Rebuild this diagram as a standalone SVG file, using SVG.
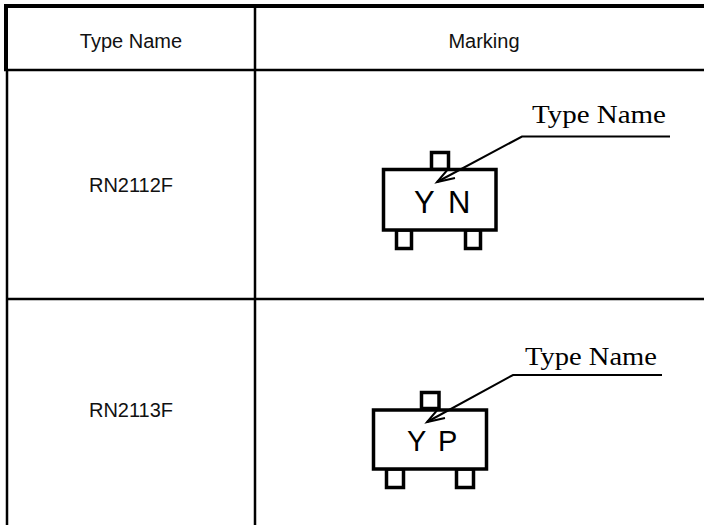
<svg xmlns="http://www.w3.org/2000/svg" width="704" height="525" viewBox="0 0 704 525">
<style>
.grid{stroke:#000;fill:none}
.lbl{font-family:"Liberation Sans",Arial,sans-serif;font-size:20px;fill:#111;text-anchor:middle}
.mark{font-family:"Liberation Sans",Arial,sans-serif;font-size:30px;fill:#000}
.tn{font-family:"Liberation Serif","Times New Roman",serif;font-size:25px;fill:#000}
.pkg{stroke:#000;stroke-width:3.5;fill:#fff}
.lead{stroke:#000;stroke-width:2;fill:none}
</style>
<rect width="704" height="525" fill="#fff"/>
<g id="table">
<line class="grid" x1="4" y1="6" x2="704" y2="6" stroke-width="4"/>
<line class="grid" x1="6" y1="4" x2="6" y2="71" stroke-width="4"/>
<line class="grid" x1="7" y1="70" x2="7" y2="525" stroke-width="2.5"/>
<line class="grid" x1="4" y1="70" x2="704" y2="70" stroke-width="2.5"/>
<line class="grid" x1="255" y1="6" x2="255" y2="525" stroke-width="2.5"/>
<line class="grid" x1="7" y1="299" x2="704" y2="299" stroke-width="2.5"/>
</g>
<g id="header">
<text class="lbl" x="131" y="48">Type Name</text>
<text class="lbl" x="484" y="48">Marking</text>
</g>
<g id="row1">
<text class="lbl" x="131" y="192">RN2112F</text>
<rect class="pkg" x="431.5" y="152.5" width="17" height="17"/>
<rect class="pkg" x="396.5" y="230" width="15" height="18.5"/>
<rect class="pkg" x="465.5" y="230" width="15" height="18.5"/>
<rect class="pkg" x="383.5" y="169.5" width="112.5" height="60.5"/>
<text class="mark" x="414" y="213" style="font-size:31px">Y</text>
<text class="mark" x="448" y="213" style="font-size:31px">N</text>
<text class="tn" x="532" y="123" textLength="134" lengthAdjust="spacingAndGlyphs">Type Name</text>
</g>
<g id="row2">
<text class="lbl" x="131" y="417">RN2113F</text>
<rect class="pkg" x="421.5" y="392.5" width="17.5" height="16"/>
<rect class="pkg" x="386.5" y="469" width="17" height="18.5"/>
<rect class="pkg" x="456.5" y="469" width="17" height="18.5"/>
<rect class="pkg" x="373.5" y="410" width="113" height="59"/>
<text class="mark" x="407" y="451" style="font-size:29px">Y</text>
<text class="mark" x="438" y="451" style="font-size:29px">P</text>
<text class="tn" x="525" y="365" textLength="132" lengthAdjust="spacingAndGlyphs">Type Name</text>
</g>
<g id="connectors">
<path class="lead" d="M670,136.5 H522 L437,182"/>
<path class="lead" d="M449,168 L437,182 L455,178"/>
<path class="lead" d="M662,375 H513 L427,422"/>
<path class="lead" d="M439,408 L427,422 L445,418"/>
</g>
</svg>
